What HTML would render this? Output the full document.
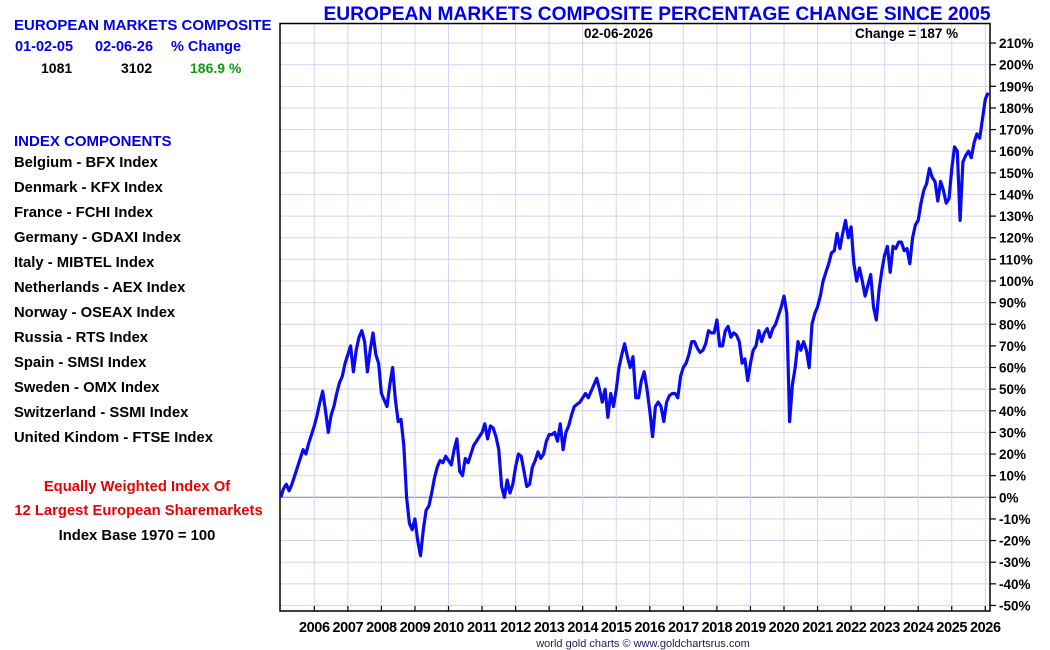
<!DOCTYPE html>
<html><head><meta charset="utf-8"><style>
body{margin:0;width:1050px;height:650px;background:#fff;overflow:hidden;font-family:"Liberation Sans",sans-serif;position:relative}
.t{position:absolute;font-weight:bold;white-space:nowrap}
.b{color:#0000ee}.k{color:#000}
</style></head><body>
<div class="t b" style="left:14px;top:17px;font-size:15px">EUROPEAN MARKETS COMPOSITE</div>
<div class="t b" style="left:15px;top:39px;font-size:14.5px">01-02-05</div>
<div class="t b" style="left:95px;top:39px;font-size:14.5px">02-06-26</div>
<div class="t b" style="left:171px;top:39px;font-size:14.5px">% Change</div>
<div class="t k" style="left:41px;top:60px;font-size:14px">1081</div>
<div class="t k" style="left:121px;top:60px;font-size:14px">3102</div>
<div class="t" style="left:190px;top:60px;font-size:14px;color:#129a12">186.9 %</div>
<div class="t b" style="left:14px;top:133px;font-size:15px">INDEX COMPONENTS</div>
<div style="position:absolute;left:14px;top:151px;font-size:14.8px;font-weight:bold;line-height:25px">
<div>Belgium - BFX Index</div>
<div>Denmark - KFX Index</div>
<div>France - FCHI Index</div>
<div>Germany - GDAXI Index</div>
<div>Italy - MIBTEL Index</div>
<div>Netherlands - AEX Index</div>
<div>Norway - OSEAX Index</div>
<div>Russia - RTS Index</div>
<div>Spain - SMSI Index</div>
<div>Sweden - OMX Index</div>
<div>Switzerland - SSMI Index</div>
<div>United Kindom - FTSE Index</div>
</div>
<div class="t" style="left:0;width:274px;text-align:center;top:479px;font-size:14.8px;color:#ee0000">Equally Weighted Index Of</div>
<div class="t" style="left:0;width:277px;text-align:center;top:503px;font-size:14.8px;color:#ee0000">12 Largest European Sharemarkets</div>
<div class="t k" style="left:0;width:274px;text-align:center;top:528px;font-size:14.8px">Index Base 1970 = 100</div>
<svg id="c" width="1050" height="650" style="position:absolute;left:0;top:0"></svg>
<script>
const years=[2006,2007,2008,2009,2010,2011,2012,2013,2014,2015,2016,2017,2018,2019,2020,2021,2022,2023,2024,2025,2026];
const yTicks=[-50,-40,-30,-20,-10,0,10,20,30,40,50,60,70,80,90,100,110,120,130,140,150,160,170,180,190,200,210];
const values=[
0,4,6,3,6,10,14,18,22,20,25,29,
33,38,44,49,40,30,38,42,48,53,56,62,
66,70,58,68,74,77,72,58,68,76,66,62,
48,45,42,52,60,45,35,36,24,0,-12,-15,
-10,-20,-27,-15,-6,-4,2,9,14,17,16,19,
17,15,22,27,12,10,18,16,20,24,26,28,
30,34,27,33,32,28,22,5,0,8,2,6,
14,20,19,12,5,6,14,17,21,18,20,26,
29,29,30,26,34,22,30,33,38,42,43,44,
46,48,46,49,52,55,50,44,50,37,48,42,
50,60,66,71,65,60,65,46,46,54,58,50,
40,28,42,44,42,35,44,47,48,48,46,56,
60,62,66,72,72,69,67,68,71,77,76,76,
82,70,70,77,79,74,76,75,72,62,64,54,
62,68,70,77,72,76,78,74,78,80,84,88,
93,85,35,52,60,72,68,72,68,60,80,85,
88,93,100,104,108,113,114,122,115,122,128,120,
125,108,100,106,100,93,98,103,88,82,96,105,
112,116,104,116,115,118,118,114,115,108,120,126,
128,136,142,145,152,148,146,137,146,142,136,138,
152,162,160,128,155,158,160,157,164,168,166,175,
184,187];
const L=280,R=990,T=23.5,B=611;
const x=yr=>314.3+(yr-2006)*33.55;
const y=p=>497.3-p*2.163;
const ns="http://www.w3.org/2000/svg",svg=document.getElementById('c');
function mk(tag,a){const e=document.createElementNS(ns,tag);for(const k in a)e.setAttribute(k,a[k]);svg.appendChild(e);return e;}
const t1=mk('text',{x:657,y:20,'text-anchor':'middle','font-size':19.2,'font-weight':'bold',fill:'#0000ee','font-family':'Liberation Sans'});t1.textContent='EUROPEAN MARKETS COMPOSITE PERCENTAGE CHANGE SINCE 2005';


yTicks.forEach(v=>{const g=mk('line',{x1:L,x2:R,y1:y(v),y2:y(v),stroke:v===0?'#a070b0':'#d4d4f4','stroke-width':1});


mk('line',{x1:R,x2:R+6,y1:y(v),y2:y(v),stroke:'#000','stroke-width':1.2});
const tx=mk('text',{x:999,y:y(v)+5,'font-size':13.5,'font-weight':'bold',fill:'#000','font-family':'Liberation Sans'});tx.textContent=v+'%';

});
years.forEach(yr=>{const xx=x(yr);const g=mk('line',{x1:xx,x2:xx,y1:T,y2:B,stroke:'#d4d4f4','stroke-width':1});


mk('line',{x1:xx,x2:xx,y1:B-5,y2:B,stroke:'#000','stroke-width':1.2});
const tx=mk('text',{x:xx,y:632,'text-anchor':'middle','font-size':14.5,'font-weight':'bold',fill:'#000','font-family':'Liberation Sans','letter-spacing':'-0.4'});tx.textContent=yr;

});
const fr=mk('rect',{x:L,y:T,width:R-L,height:B-T,fill:'none',stroke:'#000','stroke-width':1.5});


const pts=values.map((v,i)=>x(2005+i/12).toFixed(1)+','+y(v).toFixed(1)).join(' ');
const pl=mk('polyline',{points:pts,fill:'none',stroke:'#0a0af0','stroke-width':3.2,'stroke-linejoin':'round'});


const d=mk('text',{x:584,y:38,'font-size':13.5,'font-weight':'bold',fill:'#000','font-family':'Liberation Sans'});d.textContent='02-06-2026';


const ch=mk('text',{x:855,y:38,'font-size':13.5,'font-weight':'bold',fill:'#000','font-family':'Liberation Sans'});ch.textContent='Change = 187 %';


const f=mk('text',{x:643,y:647,'text-anchor':'middle','font-size':11,fill:'#1a1a60','font-family':'Liberation Sans'});f.textContent='world gold charts © www.goldchartsrus.com';


</script>
</body></html>
